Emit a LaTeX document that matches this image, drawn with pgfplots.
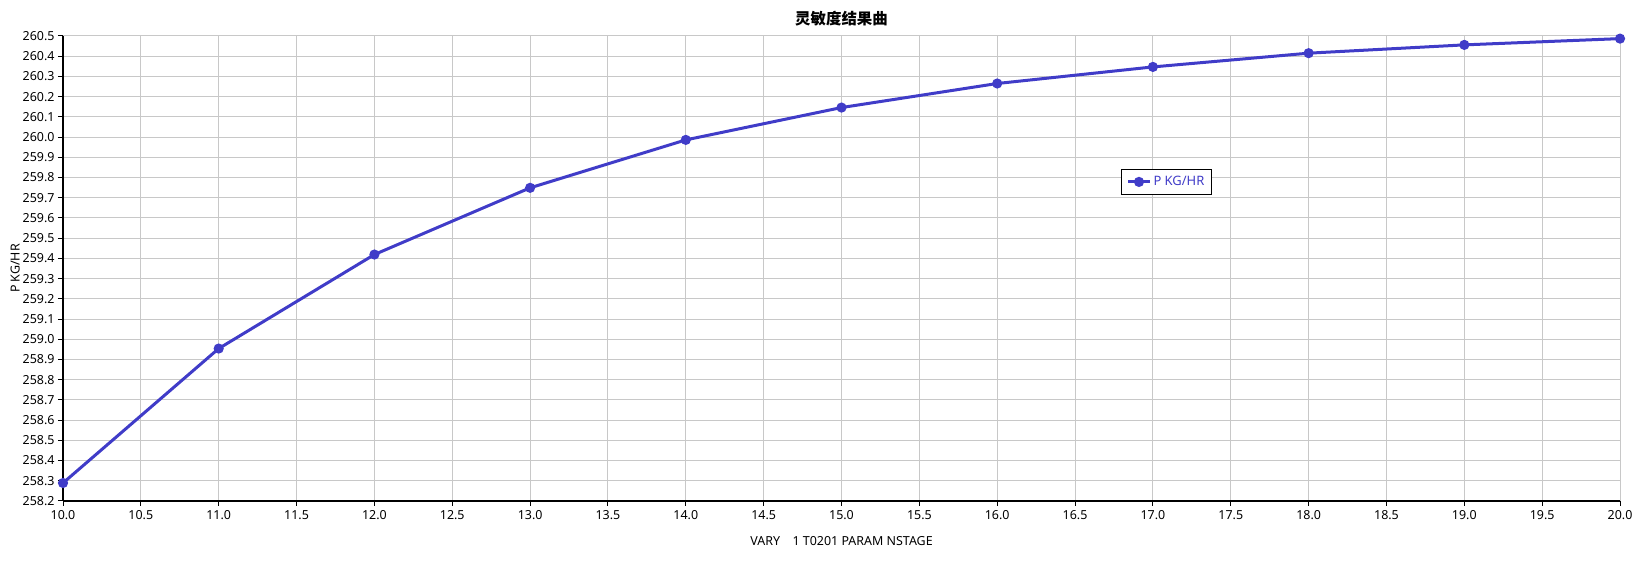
\documentclass[border=0pt]{standalone}
\usepackage{fontspec}
\setmainfont{Noto Sans}
\newfontfamily\cjk{Noto Sans CJK SC}
\usepackage{pgfplots}
\pgfplotsset{compat=1.18}
\definecolor{linec}{RGB}{64,60,200}
\definecolor{gridc}{RGB}{200,200,200}
\begin{document}
\begin{tikzpicture}[x=1bp,y=1bp]
\useasboundingbox (0,0) rectangle (1636,562);
\begin{axis}[
  at={(63bp,61bp)}, anchor=south west,
  scale only axis, width=1557bp, height=465bp,
  xmin=10, xmax=20, ymin=258.2, ymax=260.5,
  xtick distance=0.5, ytick distance=0.1,
  axis x line=bottom, axis y line=left,
  axis line style={black, line width=1.2bp, -},
  tick style={black, line width=1bp},
  tick align=outside, major tick length=5bp,
  grid=major, major grid style={gridc, line width=1bp},
  /pgf/number format/fixed, /pgf/number format/fixed zerofill, /pgf/number format/precision=1,
  /pgf/number format/assume math mode=true,
  ticklabel style={font=\fontsize{12.5}{14}\selectfont},
  xticklabel style={yshift=-1bp},
  xlabel={VARY\quad 1 T0201 PARAM NSTAGE},
  ylabel={P KG/HR},
  label style={font=\fontsize{12.5}{14}\selectfont},
  xlabel style={yshift=-10bp},
  ylabel style={yshift=-4bp},
  title={\cjk\bfseries 灵敏度结果曲},
  title style={font=\fontsize{15.5}{17}\selectfont, yshift=0bp},
  legend style={at={(0.6795,0.714)}, anchor=north west, draw=black, line width=1bp,
    font=\fontsize{13}{15}\selectfont, text=linec, inner xsep=5bp, inner ysep=5bp},
  legend cell align=left,
  legend image code/.code={
    \draw[#1, mark repeat=2, mark phase=2] plot coordinates {(0bp,0bp) (11bp,0bp) (22bp,0bp)};
  },
]
\addplot[color=linec, line width=3bp, mark=*, mark size=3.5bp, mark options={solid}]
coordinates {
(10,258.289) (11,258.954) (12,259.419) (13,259.749) (14,259.986)
(15,260.146) (16,260.265) (17,260.347) (18,260.415) (19,260.456) (20,260.487)
};
\addlegendentry{P KG/HR}
\end{axis}
\end{tikzpicture}
\end{document}
